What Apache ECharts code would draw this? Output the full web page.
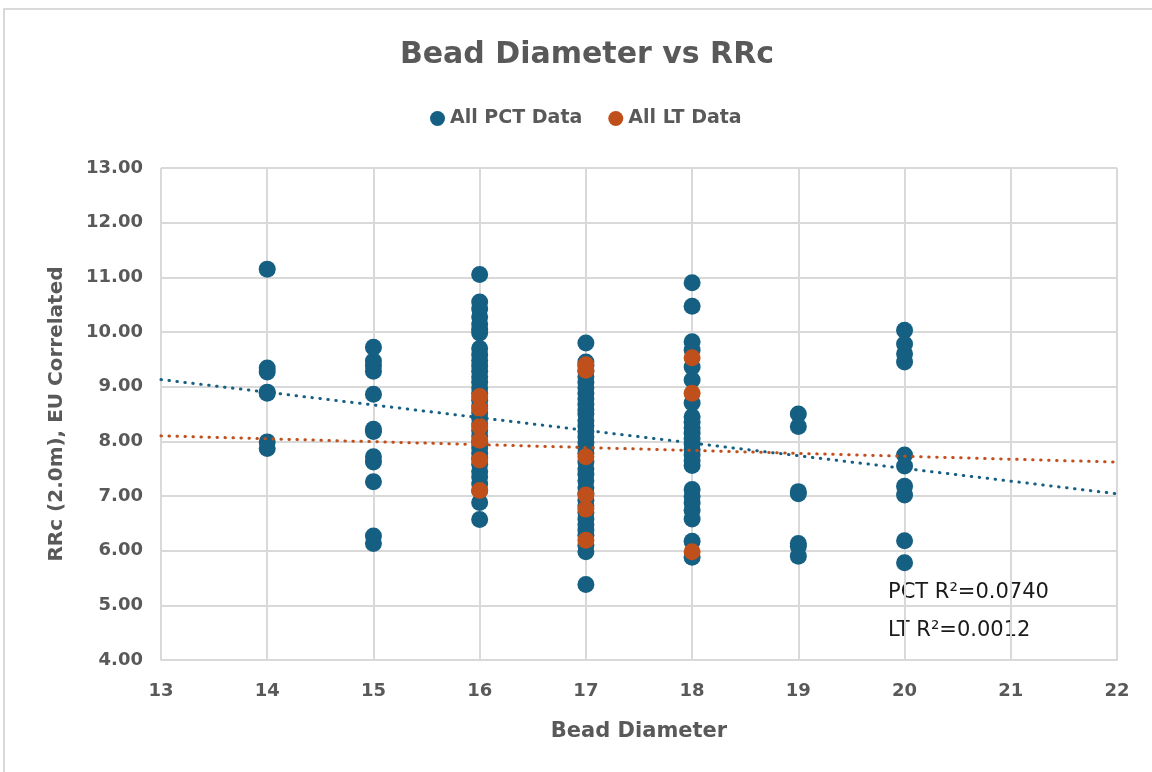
<!DOCTYPE html>
<html>
<head>
<meta charset="utf-8">
<script src="https://cdn.jsdelivr.net/npm/echarts@6/dist/echarts.min.js"></script>
<style>
  html, body { margin: 0; padding: 0; background: #fff; overflow: hidden; }
  #frame { position: absolute; left: 3px; top: 8px; width: 1170px; height: 790px; border: 2px solid #d9d9d9; box-sizing: border-box; }
  #chart { position: absolute; left: 0; top: 0; width: 1152px; height: 772px; }
</style>
</head>
<body>
<div id="frame"></div>
<div id="chart"></div>
<script>
// ---- Data ----
const pctDiameters = [14, 15, 16, 17, 18, 19, 20];
const pct14 = [11.15, 9.34, 9.27, 8.90, 8.88, 7.99, 7.87];
const pct15 = [9.72, 9.47, 9.38, 9.28, 8.86, 8.22, 8.18, 7.72, 7.62, 7.26, 6.27, 6.13];
const pct16 = [11.05, 10.55, 10.42, 10.28, 10.15, 10.05, 9.98, 9.70, 9.58, 9.48, 9.38, 9.28, 9.18, 9.08, 8.98, 8.88, 8.75, 8.65, 8.52, 8.42, 8.32, 8.20, 8.10, 7.98, 7.88, 7.78, 7.70, 7.58, 7.45, 7.35, 7.22, 7.10, 6.88, 6.57];
const pct17 = [9.80, 9.45, 9.38, 9.28, 9.18, 9.08, 8.98, 8.88, 8.78, 8.68, 8.58, 8.50, 8.38, 8.28, 8.18, 8.08, 7.98, 7.88, 7.78, 7.62, 7.50, 7.40, 7.28, 7.15, 7.05, 6.92, 6.82, 6.70, 6.58, 6.48, 6.38, 6.28, 6.10, 5.98, 5.38];
const pct18 = [10.90, 10.47, 9.82, 9.67, 9.36, 9.12, 8.70, 8.45, 8.35, 8.25, 8.15, 8.05, 7.95, 7.85, 7.75, 7.65, 7.56, 7.12, 6.99, 6.87, 6.74, 6.58, 6.17, 5.88];
const pct19 = [8.50, 8.27, 7.08, 7.04, 6.13, 6.08, 5.90];
const pct20 = [10.03, 9.78, 9.60, 9.45, 7.75, 7.55, 7.18, 7.02, 6.18, 5.78];
const pctColumns = [pct14, pct15, pct16, pct17, pct18, pct19, pct20];

const ltDiameters = [16, 17, 18];
const lt16 = [8.82, 8.60, 8.27, 8.02, 7.66, 7.10];
const lt17 = [9.40, 9.30, 7.72, 7.02, 6.76, 6.19];
const lt18 = [9.53, 8.88, 5.98];
const ltColumns = [lt16, lt17, lt18];

// Linear trend lines (endpoints read at x = 13 and x = 22)
const trendX = [13, 22];
const pctTrendY = [9.13, 7.04];
const ltTrendY = [8.10, 7.62];

const xTicks = [13, 14, 15, 16, 17, 18, 19, 20, 21, 22];
const yTicks = [4, 5, 6, 7, 8, 9, 10, 11, 12, 13];

const titleText = 'Bead Diameter vs RRc';
const pctName = 'All PCT Data';
const ltName = 'All LT Data';
const xName = 'Bead Diameter';
const yName = 'RRc (2.0m), EU Correlated';
const pctR2 = 'PCT R\u00B2=0.0740';
const ltR2 = 'LT R\u00B2=0.0012';

// ---- Build series data ----
function toPairs(diams, cols) {
  const out = [];
  diams.forEach((d, i) => cols[i].forEach(v => out.push([d, v])));
  return out;
}
const pctData = toPairs(pctDiameters, pctColumns);
const ltData = toPairs(ltDiameters, ltColumns);
const pctTrend = trendX.map((x, i) => [x, pctTrendY[i]]);
const ltTrend = trendX.map((x, i) => [x, ltTrendY[i]]);

const BLUE = '#156082';
const ORANGE = '#C0501B';
const GRAY = '#595959';
const FONT = 'DejaVu Sans';

const chart = echarts.init(document.getElementById('chart'), null, { renderer: 'canvas' });
chart.setOption({
  backgroundColor: 'transparent',
  animation: false,
  title: {
    text: titleText,
    left: 582, top: 35, textAlign: 'center',
    textStyle: { fontFamily: FONT, fontWeight: 'bold', fontSize: 30, color: GRAY }
  },
  legend: {
    data: [pctName, ltName],
    left: 425, top: 104,
    icon: 'circle', itemWidth: 15, itemHeight: 15, itemGap: 26,
    textStyle: { fontFamily: FONT, fontWeight: 'bold', fontSize: 19, color: GRAY }
  },
  grid: { left: 161, right: 35, top: 168, bottom: 112, containLabel: false },
  xAxis: {
    type: 'value', min: xTicks[0], max: xTicks[xTicks.length - 1], interval: 1,
    name: xName, nameLocation: 'middle', nameGap: 61,
    nameTextStyle: { fontFamily: FONT, fontWeight: 'bold', fontSize: 21, color: GRAY },
    axisLine: { show: true, lineStyle: { color: '#d9d9d9', width: 2 } },
    axisTick: { show: false },
    axisLabel: { fontFamily: FONT, fontWeight: 'bold', fontSize: 18, color: GRAY, margin: 22 },
    splitLine: { show: true, lineStyle: { color: '#d9d9d9', width: 2 } }
  },
  yAxis: {
    type: 'value', min: yTicks[0], max: yTicks[yTicks.length - 1], interval: 1,
    name: yName, nameLocation: 'middle', nameGap: 94,
    nameTextStyle: { fontFamily: FONT, fontWeight: 'bold', fontSize: 20, color: GRAY },
    axisLine: { show: false },
    axisTick: { show: false },
    axisLabel: { fontFamily: FONT, fontWeight: 'bold', fontSize: 18, color: GRAY, margin: 18,
      formatter: v => v.toFixed(2) },
    splitLine: { show: true, lineStyle: { color: '#d9d9d9', width: 2 } }
  },
  series: [
    { name: pctName, type: 'scatter', data: pctData, symbol: 'circle', symbolSize: 17,
      itemStyle: { color: BLUE, opacity: 1 }, z: 2 },
    { name: ltName, type: 'scatter', data: ltData, symbol: 'circle', symbolSize: 17,
      itemStyle: { color: ORANGE, opacity: 1 }, z: 3 },
    { name: 'PCT trend', type: 'line', data: pctTrend, showSymbol: false, symbol: 'none', z: 5,
      lineStyle: { color: BLUE, width: 3, type: [0.5, 7.5], cap: 'round' }, silent: true },
    { name: 'LT trend', type: 'line', data: ltTrend, showSymbol: false, symbol: 'none', z: 5,
      lineStyle: { color: ORANGE, width: 3, type: [0.5, 7.5], cap: 'round' }, silent: true }
  ],
  graphic: [
    { type: 'text', left: 888, top: 582, style: { text: pctR2, font: '21px "DejaVu Sans"', fill: '#1a1a1a' } },
    { type: 'text', left: 888, top: 620, style: { text: ltR2, font: '21px "DejaVu Sans"', fill: '#1a1a1a' } }
  ]
});
</script>
</body>
</html>
